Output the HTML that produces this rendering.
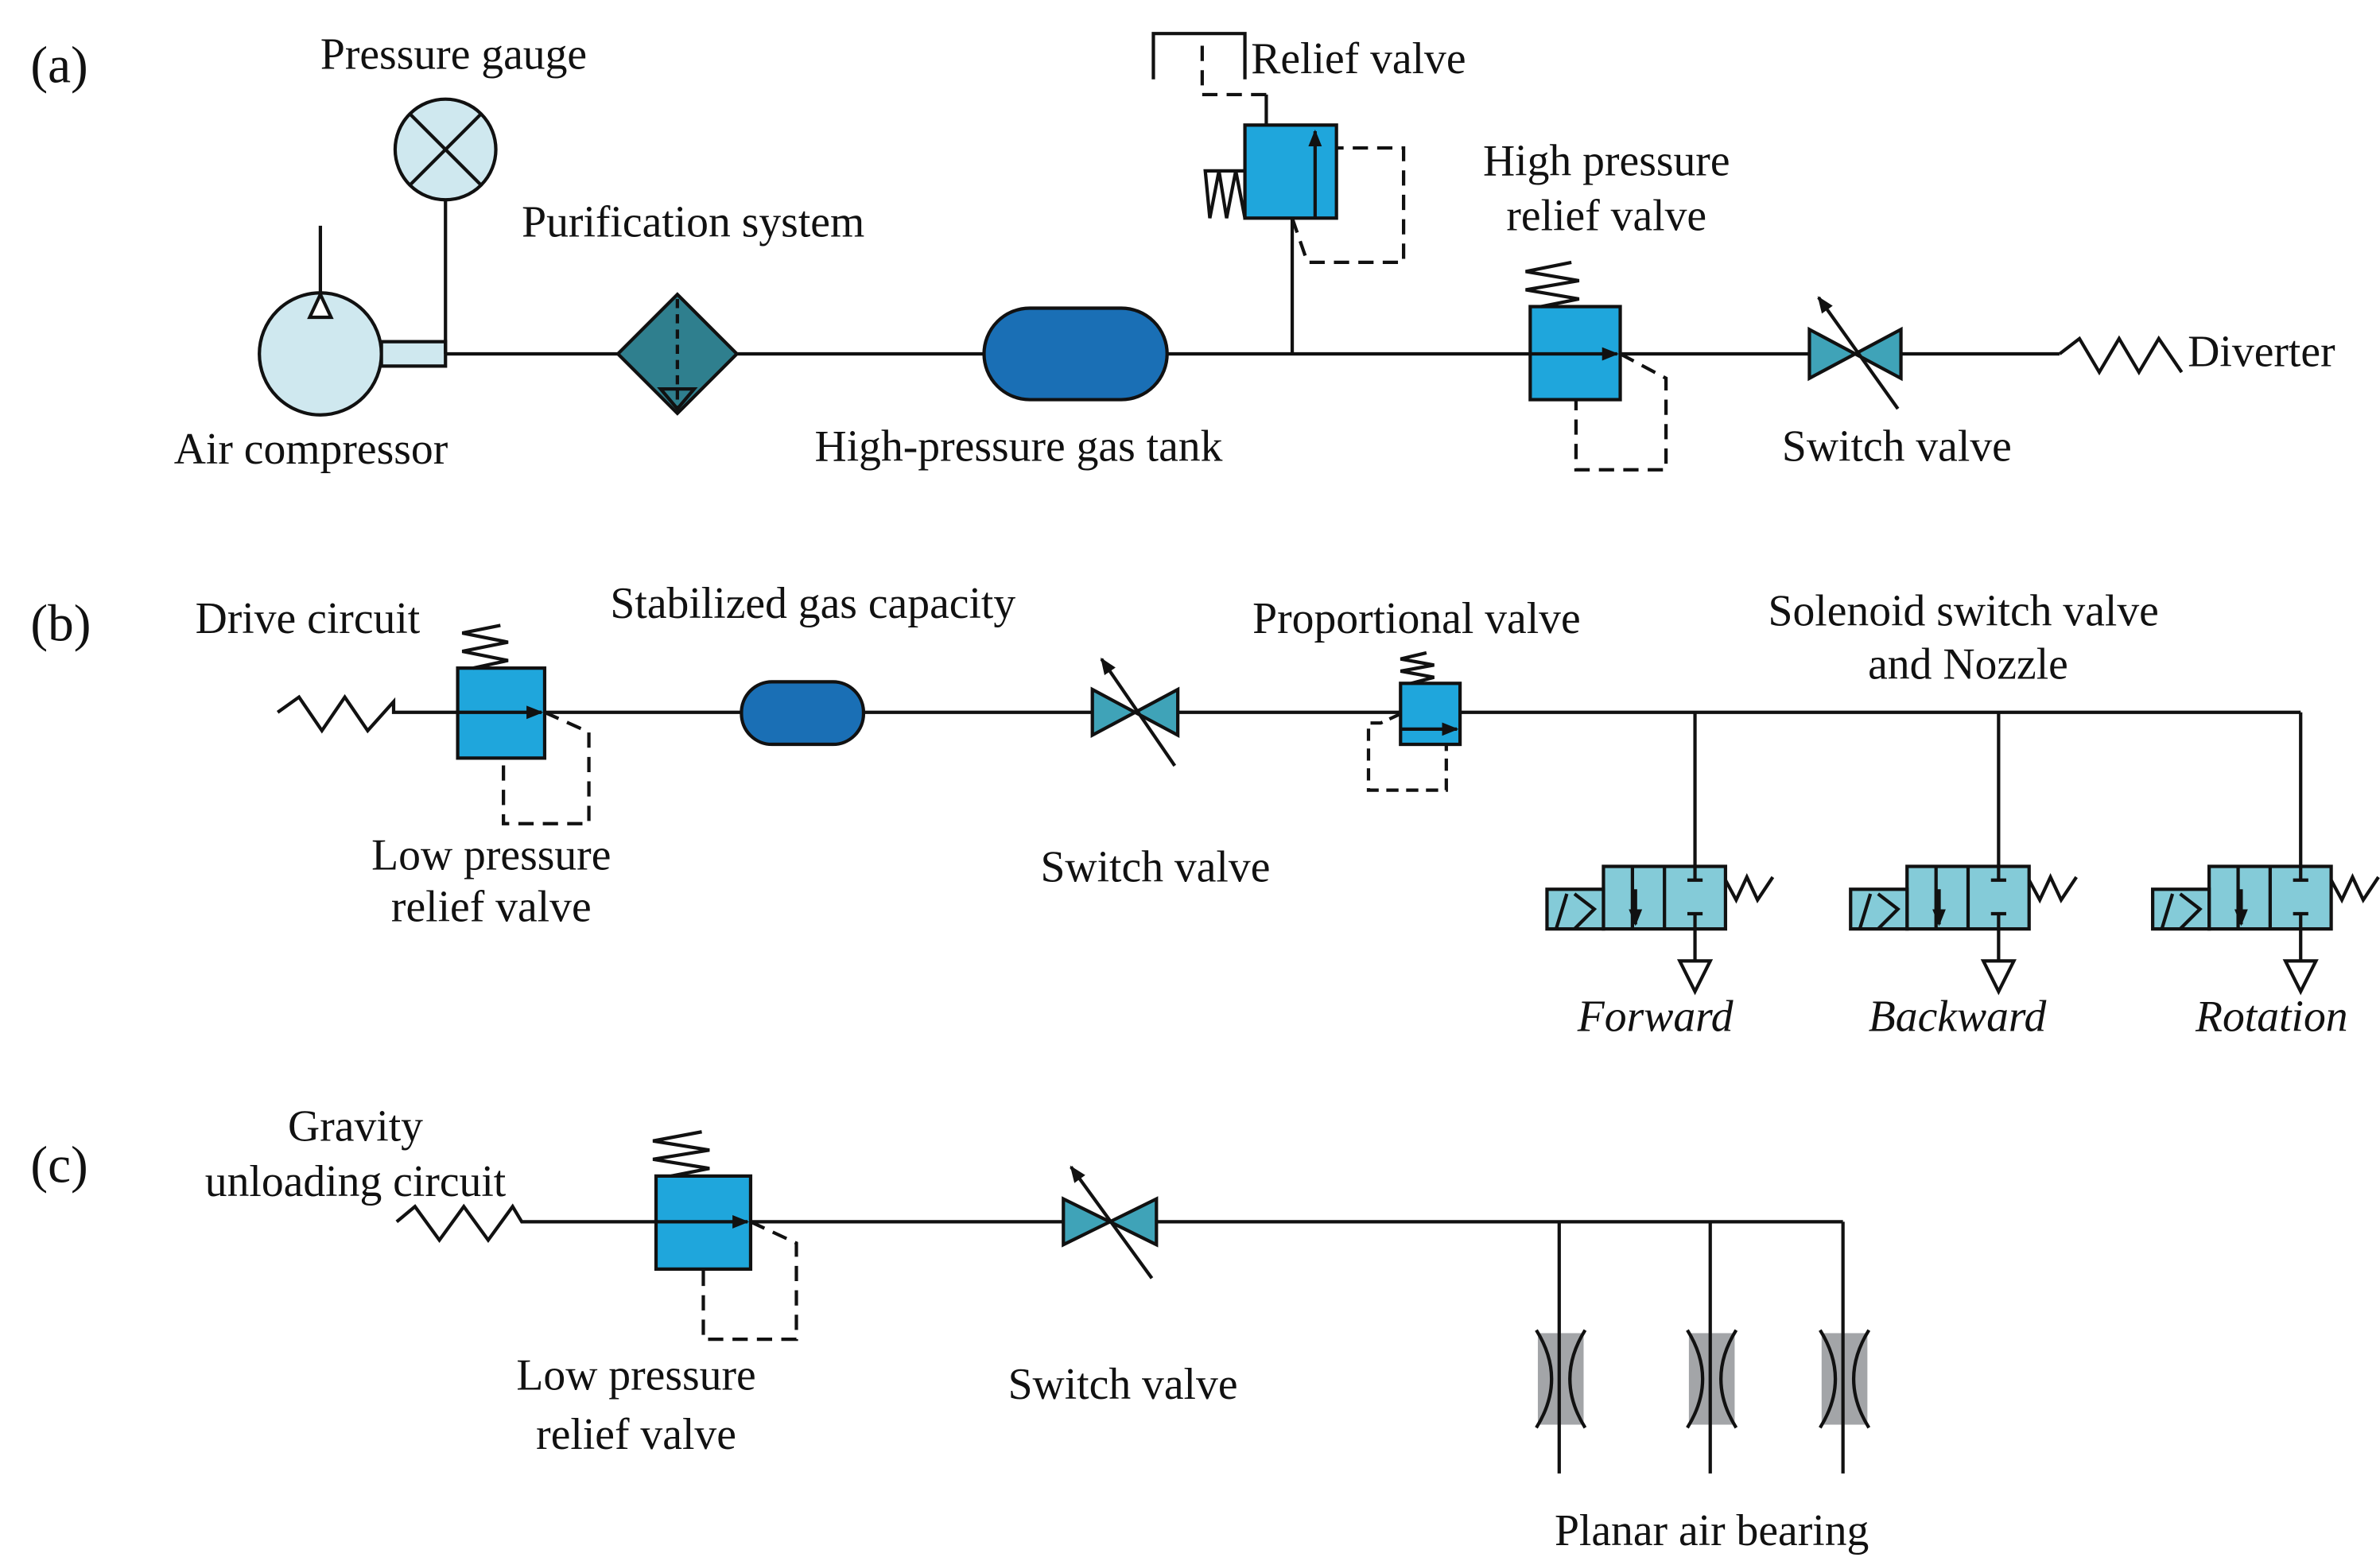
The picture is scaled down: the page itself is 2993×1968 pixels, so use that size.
<!DOCTYPE html>
<html><head><meta charset="utf-8"><style>
html,body{margin:0;padding:0;background:#fff;}
svg{display:block;}
text{font-family:"Liberation Serif",serif;font-size:29px;fill:#111;}
</style></head><body>
<svg width="2993" height="1968" viewBox="0 0 1560 1026" preserveAspectRatio="none" xmlns="http://www.w3.org/2000/svg">
<defs>
<marker id="ah" viewBox="0 0 10 10" refX="9" refY="5" markerWidth="5" markerHeight="5" orient="auto"><path d="M0,1 L10,5 L0,9 z" fill="#111"/></marker>
</defs>
<g stroke="#111" stroke-width="2.2" fill="none">
<!-- (a) -->
<line x1="292" y1="232" x2="405" y2="232"/>
<line x1="483" y1="232" x2="645" y2="232"/>
<line x1="765" y1="232" x2="1003" y2="232"/>
<line x1="1062" y1="232" x2="1186" y2="232"/>
<line x1="1246" y1="232" x2="1350" y2="232"/>
<circle cx="210" cy="232" r="40" fill="#cfe8ef"/>
<rect x="250" y="224" width="42" height="16" fill="#cfe8ef"/>
<line x1="210" y1="192" x2="210" y2="148"/>
<path d="M203,208 L210,193 L217,208 z" fill="#fff"/>
<circle cx="292" cy="98" r="33" fill="#cfe8ef"/>
<line x1="269" y1="75" x2="315" y2="121"/><line x1="315" y1="75" x2="269" y2="121"/>
<line x1="292" y1="131" x2="292" y2="232"/>
<path d="M444,193 L483,232 L444,271 L405,232 z" fill="#2f7f8e"/>
<line x1="444" y1="196" x2="444" y2="268" stroke-dasharray="6,4"/>
<path d="M433,255 L455,255 L444,268 z"/>
<rect x="645" y="202" width="120" height="60" rx="30" fill="#1a6fb5"/>
<line x1="847" y1="232" x2="847" y2="143"/>
<rect x="816" y="82" width="60" height="61" fill="#1fa6dc"/>
<line x1="862" y1="143" x2="862" y2="86" marker-end="url(#ah)"/>
<path d="M816,112 L790,112 L793,143 L799,112 L804,143 L810,112 L816,143"/>
<path d="M847,143 L857,172 L920,172 L920,97 L876,97" stroke-dasharray="10,6"/>
<line x1="830" y1="82" x2="830" y2="62"/>
<path d="M830,62 L788,62 L788,30" stroke-dasharray="10,6"/>
<path d="M756,52 L756,22 L816,22 L816,52"/>
<rect x="1003" y="201" width="59" height="61" fill="#1fa6dc"/>
<line x1="1003" y1="232" x2="1060" y2="232" marker-end="url(#ah)"/>
<path d="M1010,201 L1035,196 L1000,190 L1035,184 L1000,178 L1030,172"/>
<path d="M1062,232 L1092,248 L1092,308 L1033,308 L1033,262" stroke-dasharray="10,6"/>
<path d="M1186,216 L1246,248 L1246,216 L1186,248 z" fill="#3fa3b8"/>
<line x1="1244" y1="268" x2="1192" y2="195" marker-end="url(#ah)"/>
<path d="M1350,232 L1363,222 L1376,244 L1389,222 L1402,244 L1415,222 L1430,244"/>
<!-- (b) -->
<path d="M182,467 L196,457 L211,479 L226,457 L241,479 L258,460 L258,467 L300,467"/>
<line x1="357" y1="467" x2="486" y2="467"/>
<line x1="566" y1="467" x2="716" y2="467"/>
<line x1="772" y1="467" x2="918" y2="467"/>
<line x1="957" y1="467" x2="1508" y2="467"/>
<rect x="300" y="438" width="57" height="59" fill="#1fa6dc"/>
<line x1="300" y1="467" x2="355" y2="467" marker-end="url(#ah)"/>
<path d="M310,438 L333,433 L303,427 L333,421 L303,415 L328,410"/>
<path d="M357,467 L386,480 L386,540 L330,540 L330,497" stroke-dasharray="10,6"/>
<rect x="486" y="447" width="80" height="41" rx="20" fill="#1a6fb5"/>
<path d="M716,452 L772,482 L772,452 L716,482 z" fill="#3fa3b8"/>
<line x1="770" y1="502" x2="722" y2="432" marker-end="url(#ah)"/>
<rect x="918" y="448" width="39" height="40" fill="#1fa6dc"/>
<line x1="918" y1="478" x2="955" y2="478" marker-end="url(#ah)"/>
<path d="M925,448 L940,444 L918,440 L940,436 L918,432 L935,428"/>
<path d="M918,468 L905,474 L897,474 L897,518 L948,518 L948,488" stroke-dasharray="8,5"/>
<g id="sv">
<line x1="1111" y1="467" x2="1111" y2="568"/>
<rect x="1051" y="568" width="80" height="41" fill="#84cbd8"/>
<rect x="1014" y="583" width="37" height="26" fill="#84cbd8"/>
<line x1="1070" y1="568" x2="1070" y2="609"/><line x1="1091" y1="568" x2="1091" y2="609"/>
<line x1="1072" y1="583" x2="1072" y2="606" marker-end="url(#ah)"/>
<line x1="1111" y1="568" x2="1111" y2="577"/><line x1="1106" y1="577" x2="1116" y2="577"/>
<line x1="1106" y1="599" x2="1116" y2="599"/><line x1="1111" y1="599" x2="1111" y2="630"/>
<line x1="1020" y1="609" x2="1027" y2="586"/>
<path d="M1032,586 L1045,596 L1032,609"/>
<path d="M1131,577 L1138,590 L1145,575 L1152,590 L1162,575"/>
<path d="M1101,630 L1121,630 L1111,650 z" fill="#fff"/>
</g>
<use href="#sv" x="199"/>
<use href="#sv" x="397"/>
<!-- (c) -->
<path d="M260,801 L272,791 L288,813 L304,791 L320,813 L336,791 L342,801 L430,801"/>
<line x1="492" y1="801" x2="697" y2="801"/>
<line x1="758" y1="801" x2="1208" y2="801"/>
<rect x="430" y="771" width="62" height="61" fill="#1fa6dc"/>
<line x1="430" y1="801" x2="490" y2="801" marker-end="url(#ah)"/>
<path d="M440,771 L465,766 L428,760 L465,754 L428,748 L460,742"/>
<path d="M492,801 L522,815 L522,878 L461,878 L461,832" stroke-dasharray="10,6"/>
<path d="M697,786 L758,816 L758,786 L697,816 z" fill="#3fa3b8"/>
<line x1="755" y1="838" x2="702" y2="765" marker-end="url(#ah)"/>
</g>
<g id="br">
<rect x="1008" y="874" width="30" height="60" fill="#a3a5a8"/>
<path d="M1007,872 Q1027,904 1007,936 M1039,872 Q1019,904 1039,936" stroke="#111" stroke-width="2.2" fill="none"/>
<line x1="1022" y1="801" x2="1022" y2="966" stroke="#111" stroke-width="2.2"/>
</g>
<use href="#br" x="99"/>
<use href="#br" x="186"/>
<text x="20" y="54" style="font-size:34px">(a)</text>
<text x="20" y="420" style="font-size:34px">(b)</text>
<text x="20" y="775" style="font-size:34px">(c)</text>
<text x="210" y="45">Pressure gauge</text>
<text x="342" y="155">Purification system</text>
<text x="820" y="48">Relief valve</text>
<text x="1053" y="115" text-anchor="middle">High pressure</text>
<text x="1053" y="151" text-anchor="middle">relief valve</text>
<text x="114" y="304">Air compressor</text>
<text x="534" y="302">High-pressure gas tank</text>
<text x="1168" y="302">Switch valve</text>
<text x="1434" y="240">Diverter</text>
<text x="128" y="415">Drive circuit</text>
<text x="400" y="405">Stabilized gas capacity</text>
<text x="821" y="415">Proportional valve</text>
<text x="1287" y="410" text-anchor="middle">Solenoid switch valve</text>
<text x="1290" y="445" text-anchor="middle">and Nozzle</text>
<text x="322" y="570" text-anchor="middle">Low pressure</text>
<text x="322" y="604" text-anchor="middle">relief valve</text>
<text x="682" y="578">Switch valve</text>
<text x="1085" y="676" text-anchor="middle" font-style="italic">Forward</text>
<text x="1283" y="676" text-anchor="middle" font-style="italic">Backward</text>
<text x="1489" y="676" text-anchor="middle" font-style="italic">Rotation</text>
<text x="233" y="748" text-anchor="middle">Gravity</text>
<text x="233" y="784" text-anchor="middle">unloading circuit</text>
<text x="417" y="911" text-anchor="middle">Low pressure</text>
<text x="417" y="950" text-anchor="middle">relief valve</text>
<text x="736" y="917" text-anchor="middle">Switch valve</text>
<text x="1122" y="1013" text-anchor="middle">Planar air bearing</text>
</svg>
</body></html>
